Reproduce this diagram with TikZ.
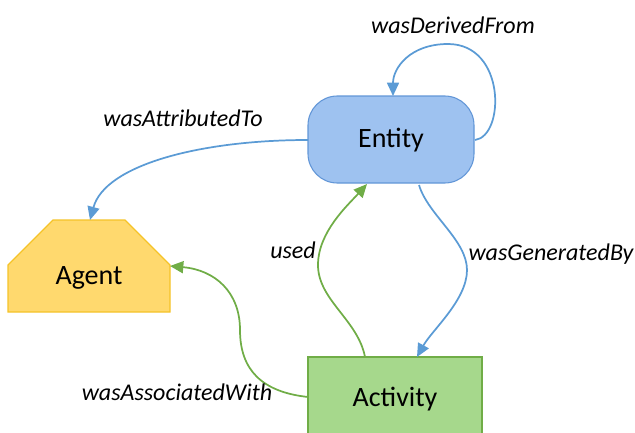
\documentclass[tikz,border=0pt]{standalone}
\usepackage{fontspec}
\setmainfont{Carlito}
\usetikzlibrary{arrows.meta}
\definecolor{entfill}{RGB}{158,194,240}
\definecolor{entdraw}{RGB}{98,150,215}
\definecolor{agfill}{RGB}{255,217,110}
\definecolor{agdraw}{RGB}{245,195,40}
\definecolor{acfill}{RGB}{166,216,140}
\definecolor{acdraw}{RGB}{112,173,71}
\definecolor{blueline}{RGB}{91,155,213}
\definecolor{greenline}{RGB}{112,173,71}
\tikzset{
  boxtext/.style={font=\fontsize{21}{24}\selectfont, text=black},
  lbl/.style={font=\fontsize{18}{21}\selectfont\itshape, text=black},
  bluearrow/.style={draw=blueline, line width=1.3pt, -{Triangle[length=10pt,width=9pt]}},
  greenarrow/.style={draw=greenline, line width=1.3pt, -{Triangle[length=10pt,width=9pt]}},
}
\begin{document}
\begin{tikzpicture}[x=0.75pt,y=-0.75pt]
\useasboundingbox (0,0) rectangle (635,432);
\clip (0,0) rectangle (635,432);
% shapes
\draw[fill=entfill, draw=entdraw, line width=0.8pt, rounded corners=22pt] (308,96) rectangle (474,183);
\draw[fill=agfill, draw=agdraw, line width=0.8pt] (8,265) -- (53,220) -- (125,220) -- (170,265) -- (170,312) -- (8,312) -- cycle;
\draw[fill=acfill, draw=acdraw, line width=0.8pt] (308,357) rectangle (482,450);
% text nodes
\node[boxtext] (entity) at (391,140) {Entity};
\node[boxtext] (agent) at (89,278) {Agent};
\node[boxtext] (activity) at (395,399) {Activity};
% anchor coordinates
\coordinate (eR) at (475,140);
\coordinate (eT) at (393,96);
\coordinate (eL) at (308,140);
\coordinate (eB1) at (419,185);
\coordinate (eB2) at (367,184);
\coordinate (aT) at (90,220);
\coordinate (aR) at (170,266);
\coordinate (cT1) at (417,357);
\coordinate (cT2) at (365,357);
\coordinate (cL) at (308,397);
% connectors
\draw[bluearrow] (eR) .. controls (505,136) and (506,44) .. (448,44) .. controls (410,44) and (393,68) .. (eT);
\draw[bluearrow] (eL) .. controls (200,140) and (105,165) .. (aT);
\draw[bluearrow] (eB1) .. controls (428,215) and (467,240) .. (467,270) .. controls (467,300) and (432,330) .. (cT1);
\draw[greenarrow] (cT2) .. controls (358,320) and (318,300) .. (318,265) .. controls (318,232) and (348,205) .. (eB2);
\draw[greenarrow] (cL) .. controls (262,392) and (240,370) .. (240,330) .. controls (240,292) and (215,270) .. (aR);
% labels
\node[lbl] (lderived) at (453,25) {wasDerivedFrom};
\node[lbl] (lattr) at (183,118) {wasAttributedTo};
\node[lbl] (lgen) at (551,254) {wasGeneratedBy};
\node[lbl] (lused) at (293,250) {used};
\node[lbl] (lassoc) at (177,392) {wasAssociatedWith};
\end{tikzpicture}
\end{document}
